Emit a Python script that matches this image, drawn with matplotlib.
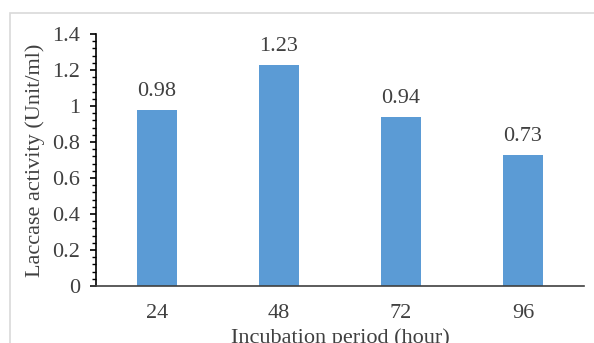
import matplotlib
matplotlib.use("Agg")
import matplotlib.pyplot as plt
from matplotlib.patches import Rectangle
from matplotlib.ticker import MultipleLocator

categories = ["24", "48", "72", "96"]
values = [0.98, 1.23, 0.94, 0.73]
value_labels = ["0.98", "1.23", "0.94", "0.73"]

plt.rcParams['font.family'] = ['Liberation Serif', 'DejaVu Serif']
W, H = 594, 343
fig = plt.figure(figsize=(W / 100, H / 100), dpi=100)
fig.patch.set_facecolor("white")

# outer light gray frame
fig.patches.append(Rectangle((10 / W, -0.05), 1.0, 1 - 13 / H + 0.05,
                             transform=fig.transFigure, fill=False,
                             edgecolor="#d9d9d9", linewidth=1.2))

FS = 16
TXT = "#404040"
ax = fig.add_axes([96 / W, 1 - 286 / H, (584 - 96) / W, (286 - 34) / H])
x = range(len(categories))
ax.bar(x, values, width=0.32, color="#5B9BD5", zorder=2)
for xi, v, lab in zip(x, values, value_labels):
    ax.annotate(lab, (xi, v), xytext=(0, 6.5), textcoords="offset points",
                ha="center", va="bottom", fontsize=FS, color=TXT)

ax.set_xlim(-0.5, len(categories) - 0.5)
ax.set_ylim(0, 1.4)
ax.yaxis.set_minor_locator(MultipleLocator(0.04))
ax.set_yticks([0, 0.2, 0.4, 0.6, 0.8, 1.0, 1.2, 1.4])
ax.set_yticklabels(["0", "0.2", "0.4", "0.6", "0.8", "1", "1.2", "1.4"])
ax.set_xticks(list(x))
ax.set_xticklabels(categories)
ax.tick_params(axis="x", length=0, pad=13, labelsize=FS, labelcolor=TXT)
ax.tick_params(axis="y", which="major", length=4.5, width=1.2, direction="out",
               labelsize=FS, labelcolor=TXT, pad=7)
ax.tick_params(axis="y", which="minor", length=3, width=1.0, direction="out")

for s in ["top", "right"]:
    ax.spines[s].set_visible(False)
ax.spines["left"].set_linewidth(1.2)
ax.spines["bottom"].set_color("#404040")
ax.spines["bottom"].set_linewidth(1.2)
ax.spines["bottom"].set_bounds(-0.5 - 5 / 122, len(categories) - 0.5)

ax.set_ylabel("Laccase activity (Unit/ml)", fontsize=FS, color=TXT, labelpad=5)
ax.set_xlabel("Incubation period (hour)", fontsize=FS, color=TXT, labelpad=4)

fig.savefig("out.png", dpi=100, facecolor="white")
